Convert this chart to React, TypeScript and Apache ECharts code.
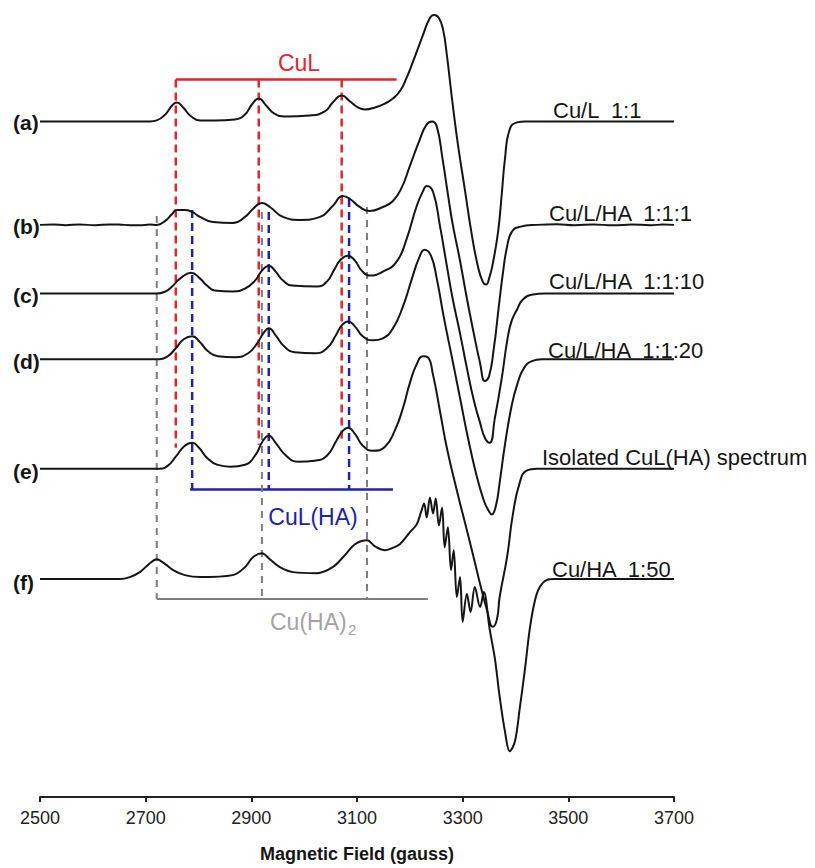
import React, { useEffect, useRef } from 'react';
import * as echarts from 'echarts';

// Magnetic field ticks (gauss)
const fieldTicks = [2500, 2700, 2900, 3100, 3300, 3500, 3700];

// EPR derivative spectra: [field (gauss), relative intensity]
const traceA: [number, number][] = [
  [2500, 0], [2708, 0], [2721, 1], [2737, 7], [2750, 16], [2759, 19], [2771, 14], [2784, 6], [2803, 1], [2831, 1],
  [2869, 2], [2888, 7], [2901, 17], [2914, 23], [2928, 16], [2943, 8], [2964, 5], [3011, 6], [3039, 10], [3054, 19],
  [3071, 26], [3087, 20], [3102, 14], [3115, 12], [3134, 14], [3153, 18], [3168, 23], [3182, 31], [3194, 44], [3206, 60],
  [3225, 87], [3238, 104], [3246, 107], [3255, 104], [3263, 92], [3270, 67], [3280, 22], [3291, -23], [3304, -68],
  [3317, -113], [3329, -146], [3338, -161], [3344, -164], [3351, -156], [3357, -143], [3367, -111], [3374, -73],
  [3380, -38], [3389, -8], [3403, -1], [3418, 0], [3700, 0],
];
const traceB: [number, number][] = [
  [2500, 0], [2525, 0.5], [2548, -0.3], [2575, 0.4], [2605, -0.4], [2632, 0.5], [2660, 0], [2688, -0.5], [2708, 0.4],
  [2721, 0], [2737, 4], [2750, 11], [2759, 15], [2774, 15], [2788, 13], [2803, 8], [2827, 3], [2865, 2], [2888, 8],
  [2903, 16], [2920, 22], [2935, 18], [2960, 8], [2992, 5], [3030, 8], [3054, 19], [3073, 29], [3087, 26], [3105, 18],
  [3124, 14], [3149, 18], [3168, 24], [3185, 38], [3200, 59], [3219, 86], [3232, 101], [3242, 104], [3251, 99],
  [3262, 66], [3272, 31], [3281, 1], [3295, -36], [3308, -74], [3321, -109], [3333, -139], [3342, -157], [3350, -152],
  [3359, -124], [3368, -84], [3376, -49], [3384, -22], [3393, -7], [3408, -2], [3440, 0], [3478, 0.6], [3512, -0.4],
  [3548, 0.5], [3585, -0.5], [3620, 0.4], [3655, -0.3], [3680, 0.3], [3700, 0],
];
const traceC: [number, number][] = [
  [2500, 0], [2710, 0], [2721, 0], [2737, 2], [2750, 7], [2765, 15], [2786, 21], [2803, 15], [2816, 8], [2831, 3],
  [2865, 2], [2888, 5], [2907, 13], [2920, 23], [2933, 28], [2946, 22], [2960, 13], [2977, 8], [3024, 7], [3043, 12],
  [3058, 25], [3069, 34], [3083, 38], [3096, 33], [3109, 23], [3124, 18], [3149, 22], [3175, 32], [3194, 55], [3213, 88],
  [3225, 103], [3232, 108], [3244, 102], [3257, 68], [3270, 28], [3281, -5], [3295, -40], [3308, -75], [3321, -107],
  [3333, -130], [3342, -145], [3351, -150], [3361, -125], [3374, -85], [3385, -45], [3393, -27], [3403, -16],
  [3414, -6], [3433, -1], [3455, 0], [3700, 0],
];
const traceD: [number, number][] = [
  [2500, 0], [2710, 0], [2727, 0], [2742, 3], [2757, 11], [2772, 20], [2788, 23], [2803, 17], [2818, 8], [2837, 3],
  [2869, 2], [2894, 6], [2911, 16], [2924, 27], [2933, 31], [2946, 24], [2962, 13], [2982, 7], [3020, 6], [3043, 11],
  [3060, 24], [3071, 34], [3083, 38], [3096, 33], [3111, 23], [3130, 19], [3149, 21], [3168, 31], [3187, 53], [3204, 81],
  [3217, 101], [3228, 110], [3240, 104], [3251, 81], [3264, 43], [3280, 1], [3295, -39], [3310, -79], [3325, -114],
  [3340, -142], [3350, -153], [3355, -156], [3363, -147], [3370, -124], [3380, -86], [3393, -46], [3404, -24],
  [3416, -9], [3431, -2], [3450, 0], [3700, 0],
];
const traceE: [number, number][] = [
  [2500, 0], [2715, 0], [2727, 0], [2742, 3], [2757, 12], [2774, 23], [2788, 26], [2801, 21], [2816, 11], [2835, 4],
  [2860, 2], [2888, 4], [2907, 13], [2922, 28], [2933, 33], [2946, 26], [2964, 14], [2988, 7], [3020, 8], [3043, 13],
  [3062, 29], [3073, 38], [3083, 41], [3096, 35], [3111, 23], [3130, 18], [3153, 22], [3172, 39], [3187, 61], [3200, 86],
  [3213, 105], [3225, 113], [3234, 112], [3244, 94], [3257, 58], [3270, 21], [3289, -22], [3308, -62], [3323, -94],
  [3333, -116], [3346, -142], [3357, -159], [3365, -151], [3370, -129], [3384, -89], [3395, -46], [3408, -14],
  [3421, -2], [3440, 0], [3700, 0],
];
const traceF: [number, number][] = [
  [2500, 0], [2651, 0], [2670, 2], [2689, 7], [2708, 16], [2721, 20], [2737, 15], [2752, 9], [2774, 4], [2803, 2],
  [2865, 4], [2888, 12], [2903, 22], [2920, 26], [2935, 20], [2954, 12], [2979, 7], [3024, 6], [3054, 12], [3077, 24],
  [3096, 35], [3119, 39], [3134, 33], [3153, 29], [3166, 31], [3181, 35], [3200, 47], [3213, 55], [3221, 67], [3227, 76],
  [3232, 62], [3238, 82], [3244, 66], [3249, 81], [3255, 54], [3261, 72], [3266, 32], [3272, 52], [3278, 9], [3283, 29],
  [3289, -18], [3295, 2], [3300, -43], [3308, -15], [3315, -33], [3323, -8], [3333, -28], [3340, -13], [3351, -50],
  [3361, -80], [3370, -118], [3380, -153], [3389, -173], [3399, -163], [3408, -130], [3418, -90], [3427, -50],
  [3437, -21], [3446, -8], [3459, -1], [3474, 0], [3700, 0],
];

const traces = [traceA, traceB, traceC, traceD, traceE, traceF];
const traceLabels = ['(a)', '(b)', '(c)', '(d)', '(e)', '(f)'];
const traceOffsets = [679, 575, 506, 440, 330, 219];
const sampleLabels = [
  'Cu/L  1:1',
  'Cu/L/HA  1:1:1',
  'Cu/L/HA  1:1:10',
  'Cu/L/HA  1:1:20',
  'Isolated CuL(HA) spectrum',
  'Cu/HA  1:50',
];

// Hyperfine line positions (gauss) for each species
const cuLPositions = [2757, 2914, 3071];
const cuLHAPositions = [2788, 2933, 3085];
const cuHA2Positions = [2721, 2920, 3119];

const RED = '#e3262b';
const BLUE = '#1e22b0';
const GRAY = '#7d7d7d';
const GRAY_TEXT = '#a3a3a3';
const FONT = '"Liberation Sans", Arial, sans-serif';

function segment(points: number[][], color: string, width: number, dash?: number[]) {
  return {
    type: 'line',
    data: points,
    symbol: 'none',
    silent: true,
    z: 1,
    smooth: false,
    lineStyle: { color, width, type: dash ? dash : 'solid' },
  };
}

export default function App() {
  const ref = useRef<HTMLDivElement>(null);
  useEffect(() => {
    const chart = echarts.init(ref.current!, undefined, { renderer: 'svg' });

    const annotationSeries: any[] = [];
    // CuL bracket (red)
    const cuLTop = 721;
    const cuLBottoms = [351, 354, 358];
    annotationSeries.push(segment([[cuLPositions[0], cuLTop], [3175, cuLTop]], RED, 2.5));
    cuLPositions.forEach((p, i) =>
      annotationSeries.push(segment([[p, cuLTop], [p, cuLBottoms[i]]], RED, 2.5, [8, 5]))
    );
    // CuL(HA) bracket (blue)
    const cuLHABase = 309;
    const cuLHATops = [590, 588, 601];
    annotationSeries.push(segment([[2784, cuLHABase], [3168, cuLHABase]], BLUE, 2.5));
    cuLHAPositions.forEach((p, i) =>
      annotationSeries.push(segment([[p, cuLHATops[i]], [p, cuLHABase]], BLUE, 2.5, [8, 5]))
    );
    // Cu(HA)2 bracket (gray)
    const cuHA2Base = 199;
    const cuHA2Tops = [584, 588, 593];
    annotationSeries.push(segment([[cuHA2Positions[0], cuHA2Base], [3234, cuHA2Base]], GRAY, 2));
    cuHA2Positions.forEach((p, i) =>
      annotationSeries.push(segment([[p, cuHA2Tops[i]], [p, cuHA2Base]], GRAY, 2, [7, 6]))
    );

    const traceSeries = traces.map((t, i) => ({
      type: 'line',
      name: traceLabels[i],
      data: t.map(([g, v]) => [g, v + traceOffsets[i]]),
      symbol: 'none',
      smooth: i === 5 ? 0.35 : 0.5,
      silent: true,
      z: 3,
      lineStyle: { color: '#151515', width: 2 },
    }));

    const leftLabelY = [122, 226, 295, 361, 471, 582];
    const rightLabelPos = [
      [553, 110], [549, 213], [549, 281], [548, 350], [542, 457], [552, 569],
    ];

    const graphics: any[] = [];
    traceLabels.forEach((lab, i) =>
      graphics.push({
        type: 'text', x: 13, y: leftLabelY[i],
        style: { text: lab, fontSize: 21, fontWeight: 'bold', fontFamily: FONT, fill: '#151515', align: 'left', verticalAlign: 'middle' },
      })
    );
    sampleLabels.forEach((lab, i) =>
      graphics.push({
        type: 'text', x: rightLabelPos[i][0], y: rightLabelPos[i][1],
        style: { text: lab, fontSize: 22, fontFamily: FONT, fill: '#151515', align: 'left', verticalAlign: 'middle' },
      })
    );
    graphics.push({
      type: 'text', x: 299, y: 63,
      style: { text: 'CuL', fontSize: 23, fontFamily: FONT, fill: RED, align: 'center', verticalAlign: 'middle' },
    });
    graphics.push({
      type: 'text', x: 313, y: 517,
      style: { text: 'CuL(HA)', fontSize: 23, fontFamily: FONT, fill: BLUE, align: 'center', verticalAlign: 'middle' },
    });
    graphics.push({
      type: 'text', x: 270, y: 622,
      style: { text: 'Cu(HA)', fontSize: 23, fontFamily: FONT, fill: GRAY_TEXT, align: 'left', verticalAlign: 'middle' },
    });
    graphics.push({
      type: 'text', x: 348, y: 629,
      style: { text: '2', fontSize: 15, fontFamily: FONT, fill: GRAY_TEXT, align: 'left', verticalAlign: 'middle' },
    });

    chart.setOption({
      animation: false,
      backgroundColor: '#ffffff',
      grid: { left: 40, right: 141, top: 1, bottom: 67, containLabel: false },
      xAxis: {
        type: 'value',
        min: fieldTicks[0],
        max: fieldTicks[fieldTicks.length - 1],
        interval: fieldTicks[1] - fieldTicks[0],
        axisLine: { show: true, onZero: false, lineStyle: { color: '#222', width: 2 } },
        axisTick: { show: true, length: 5, lineStyle: { color: '#222', width: 2 } },
        axisLabel: {
          fontSize: 18, color: '#222', margin: 12, fontFamily: FONT,
          formatter: (v: number) => String(v),
        },
        splitLine: { show: false },
        name: 'Magnetic Field (gauss)',
        nameLocation: 'middle',
        nameGap: 48,
        nameTextStyle: { fontSize: 18, fontWeight: 'bold', color: '#151515', fontFamily: FONT },
      },
      yAxis: { type: 'value', min: 0, max: 800, show: false },
      series: [...annotationSeries, ...traceSeries],
      graphic: graphics,
    });
    return () => chart.dispose();
  }, []);
  return (
    <div
      ref={ref}
      style={{ position: 'fixed', left: 0, top: 0, width: 815, height: 868, background: '#fff' }}
    />
  );
}
